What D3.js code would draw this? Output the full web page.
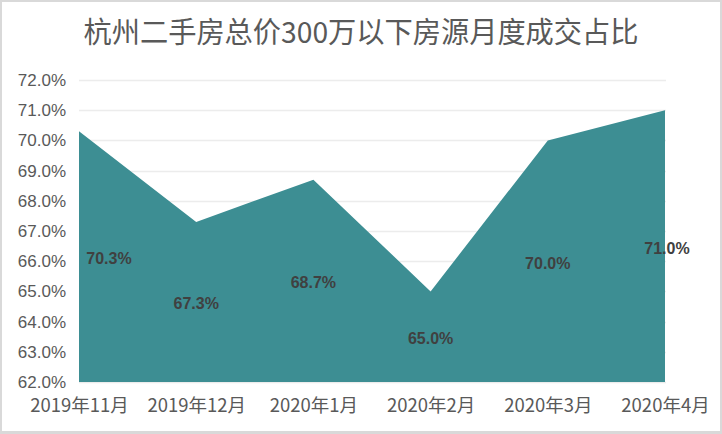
<!DOCTYPE html>
<html><head><meta charset="utf-8">
<script src="https://cdn.jsdelivr.net/npm/d3@7"></script>
<style>html,body{margin:0;padding:0;background:#fff;}svg{display:block;}</style>
</head><body>
<script>
const title = "杭州二手房总价300万以下房源月度成交占比";
const categories = ["2019年11月","2019年12月","2020年1月","2020年2月","2020年3月","2020年4月"];
const values = [70.3, 67.3, 68.7, 65.0, 70.0, 71.0];
const yTicks = [62,63,64,65,66,67,68,69,70,71,72];

const W = 722, H = 434;
const svg = d3.select("body").append("svg").attr("width", W).attr("height", H);

svg.append("rect").attr("width", W).attr("height", H).attr("fill", "#d9d9d9");
svg.append("rect").attr("x", 2).attr("y", 2).attr("width", 718).attr("height", 429).attr("fill", "#fff");

const x = d3.scalePoint().domain(categories).range([79, 665]);
const y = d3.scaleLinear().domain([62, 72]).range([382, 80]);

// gridlines
svg.append("g").selectAll("line").data(yTicks).join("line")
  .attr("x1", 79).attr("x2", 666)
  .attr("y1", d => Math.round(y(d)) + 0.5).attr("y2", d => Math.round(y(d)) + 0.5)
  .attr("stroke", "#ececec").attr("stroke-width", 1.5);

// area
const data = categories.map((c, i) => ({c, v: values[i]}));
svg.append("path").datum(data)
  .attr("fill", "#3d8e93")
  .attr("d", d3.area().x(d => x(d.c)).y0(y(62)).y1(d => y(d.v)));

// y axis labels
const yAxis = d3.axisLeft(y).tickValues(yTicks).tickSize(0).tickPadding(0)
  .tickFormat(d => d.toFixed(1) + "%");
const gy = svg.append("g").attr("transform", "translate(66,0)").call(yAxis);
gy.select(".domain").remove();
gy.selectAll("text").attr("font-family", "'Liberation Sans', Arial, sans-serif")
  .attr("font-size", 17).attr("fill", "#595959");

// x axis labels
const xAxis = d3.axisBottom(x).tickSize(0).tickPadding(0);
const gx = svg.append("g").attr("transform", "translate(0,399)").call(xAxis);
gx.select(".domain").remove();
gx.selectAll("text").attr("font-family", "'Noto Sans CJK SC', sans-serif")
  .attr("font-size", 18.5).attr("fill", "#595959");

// data labels (centered vertically in the area)
const dxOff = [30, 0, 0, 0, 0, 2];
svg.append("g").selectAll("text").data(data).join("text")
  .attr("x", (d, i) => x(d.c) + dxOff[i])
  .attr("y", d => (y(d.v) + y(62)) / 2 + 7.5)
  .attr("text-anchor", "middle")
  .attr("font-family", "'Liberation Sans', Arial, sans-serif")
  .attr("font-weight", "bold").attr("font-size", 16).attr("fill", "#404040")
  .text(d => d.v.toFixed(1) + "%");

// title
svg.append("text").attr("x", 361).attr("y", 43)
  .attr("text-anchor", "middle")
  .attr("font-family", "'Noto Sans CJK SC', sans-serif")
  .attr("font-size", 29).attr("fill", "#595959")
  .attr("textLength", 555).attr("lengthAdjust", "spacingAndGlyphs")
  .text(title);
</script>
</body></html>
